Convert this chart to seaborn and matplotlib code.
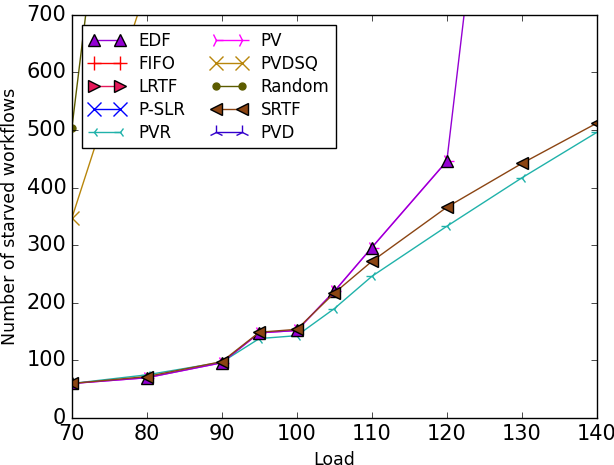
import numpy as np
import pandas as pd
import seaborn as sns
import matplotlib
matplotlib.use('Agg')
import matplotlib.pyplot as plt

load = [70, 80, 90, 95, 100, 105, 110, 120, 130, 140]

edf = [60, 70, 96, 148, 152, 220, 296, 446, 1550, np.nan]
srtf = [60, 72, 98, 149, 154, 217, 272, 366, 442, 512]
pvr = [60, 75, 97, 138, 143, 190, 246, 333, 417, 496]
pvdsq = [347, 750, np.nan, np.nan, np.nan, np.nan, np.nan, np.nan, np.nan, np.nan]
rand = [503, 1570, np.nan, np.nan, np.nan, np.nan, np.nan, np.nan, np.nan, np.nan]
pv = [60, 70, 96, 148, 152, 220, 296, 446, np.nan, np.nan]
# not visible in the picture
fifo = [np.nan] * 10
lrtf = [np.nan] * 10
pslr = [np.nan] * 10
pvd = [np.nan] * 10

names = ['EDF', 'FIFO', 'LRTF', 'P-SLR', 'PVR', 'PV', 'PVDSQ', 'Random', 'SRTF', 'PVD']
values = [edf, fifo, lrtf, pslr, pvr, pv, pvdsq, rand, srtf, pvd]
colors = ['#9400d3', 'red', '#e6195a', 'blue', '#20b2aa', '#ff00ff', '#b8860b', '#5c5c00', '#8b4513', '#3300cc']
markers = ['^', '+', '>', 'x', '3', '4', 'x', '.', '<', '2']
sizes = [9, 10, 9, 10, 8, 10, 10, 10, 9, 10]
draw_order = ['FIFO', 'LRTF', 'P-SLR', 'PVD', 'PV', 'PVR', 'PVDSQ', 'Random', 'EDF', 'SRTF']

plt.style.use('classic')
plt.rcParams['figure.facecolor'] = 'white'
plt.rcParams['savefig.facecolor'] = 'white'

df = pd.DataFrame({n: v for n, v in zip(names, values)})
df['Load'] = load

fig = plt.figure(figsize=(6.14, 4.65), dpi=100)
ax = fig.add_axes([0.117, 0.101, 0.855, 0.867])
handles = {}
for n in draw_order:
    i = names.index(n)
    filled = markers[i] in ['^', '>', '<']
    sns.lineplot(x='Load', y=n, data=df, ax=ax, linewidth=1.0, color=colors[i],
                 marker=markers[i], markersize=sizes[i],
                 markerfacecolor=colors[i],
                 markeredgecolor='k' if filled else colors[i],
                 markeredgewidth=1.0, label=n)
    handles[n] = ax.get_lines()[-1]
if ax.get_legend():
    ax.get_legend().remove()

ax.set_xlim(70, 140)
ax.set_ylim(0, 700)
ax.set_xticks(range(70, 141, 10))
ax.set_yticks(range(0, 701, 100))
ax.tick_params(labelsize=15)
ax.set_xlabel('Load', fontsize=12.5)
ax.set_ylabel('Number of starved workflows', fontsize=12.5)
ax.legend([handles[n] for n in names], names, loc='upper left', ncol=2,
          fontsize=12, numpoints=2, fancybox=False, borderaxespad=0.6,
          handlelength=2.2, labelspacing=0.3, columnspacing=1.5)

plt.savefig('out.png', dpi=100)
